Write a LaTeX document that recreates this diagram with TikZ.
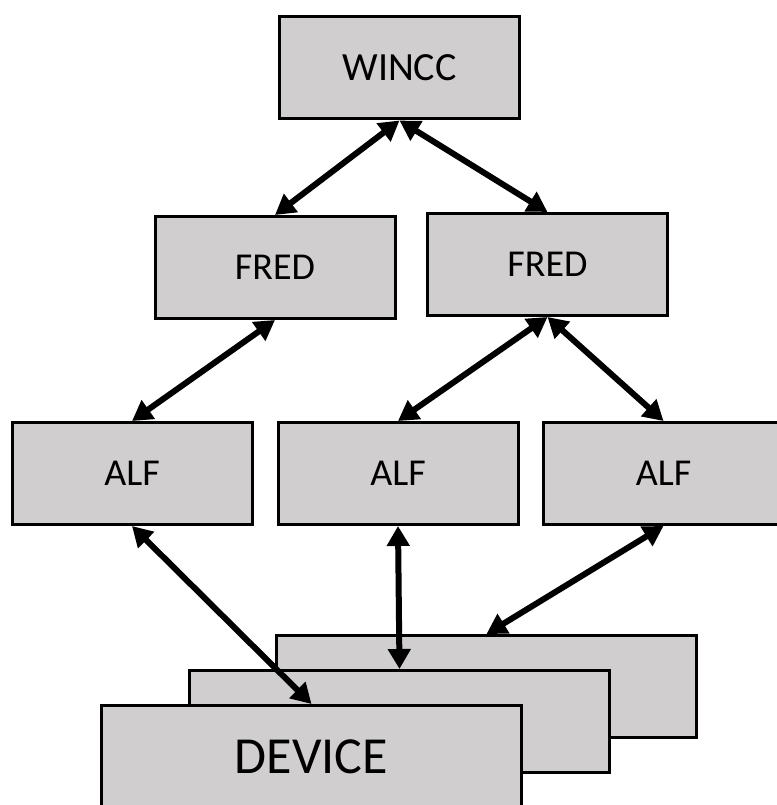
\documentclass[tikz,border=0pt]{standalone}
\usepackage{fontspec}
\setmainfont{Carlito}
\usetikzlibrary{arrows.meta}
\definecolor{boxgrey}{HTML}{D0CECE}
\tikzset{
  box/.style={draw=black, fill=boxgrey, line width=3pt, minimum width=240pt, minimum height=102pt, inner sep=0pt, font=\fontsize{38}{44}\selectfont},
  devbox/.style={draw=black, fill=boxgrey, line width=3pt, minimum width=420pt, minimum height=102pt, inner sep=0pt, font=\fontsize{52}{60}\selectfont},
  biarrow/.style={line width=6pt, {Triangle[length=20pt,width=22pt]}-{Triangle[length=20pt,width=22pt]}, shorten <=0pt, shorten >=0pt}
}
\begin{document}
\begin{tikzpicture}[x=1pt,y=-1pt]
\useasboundingbox (0,0) rectangle (776,805);
% devices (back to front)
\node[devbox] (devC) at (486.5,686.5) {};
\node[devbox] (devB) at (399.5,721.5) {};
\node[devbox] (devA) at (311.5,756.5) {DEVICE};
% boxes
\node[box, font=\fontsize{40}{46}\selectfont] (wincc) at (399.5,68) {WINCC};
\node[box] (fredL) at (275,267.5) {FRED};
\node[box] (fredR) at (547.5,264.5) {FRED};
\node[box] (alf1) at (132,473.5) {ALF};
\node[box] (alf2) at (398,473.5) {ALF};
\node[box] (alf3) at (663.5,473.5) {ALF};
% arrows
\draw[biarrow] (wincc.south) -- (fredL.north);
\draw[biarrow] (wincc.south) -- (fredR.north);
\draw[biarrow] (fredL.south) -- (alf1.north);
\draw[biarrow] (fredR.south) -- (alf2.north);
\draw[biarrow] (fredR.south) -- (alf3.north);
\draw[biarrow] (alf1.south) -- (devA.north);
\draw[biarrow] (alf2.south) -- (devB.north);
\draw[biarrow] (alf3.south) -- (devC.north);
\end{tikzpicture}
\end{document}
